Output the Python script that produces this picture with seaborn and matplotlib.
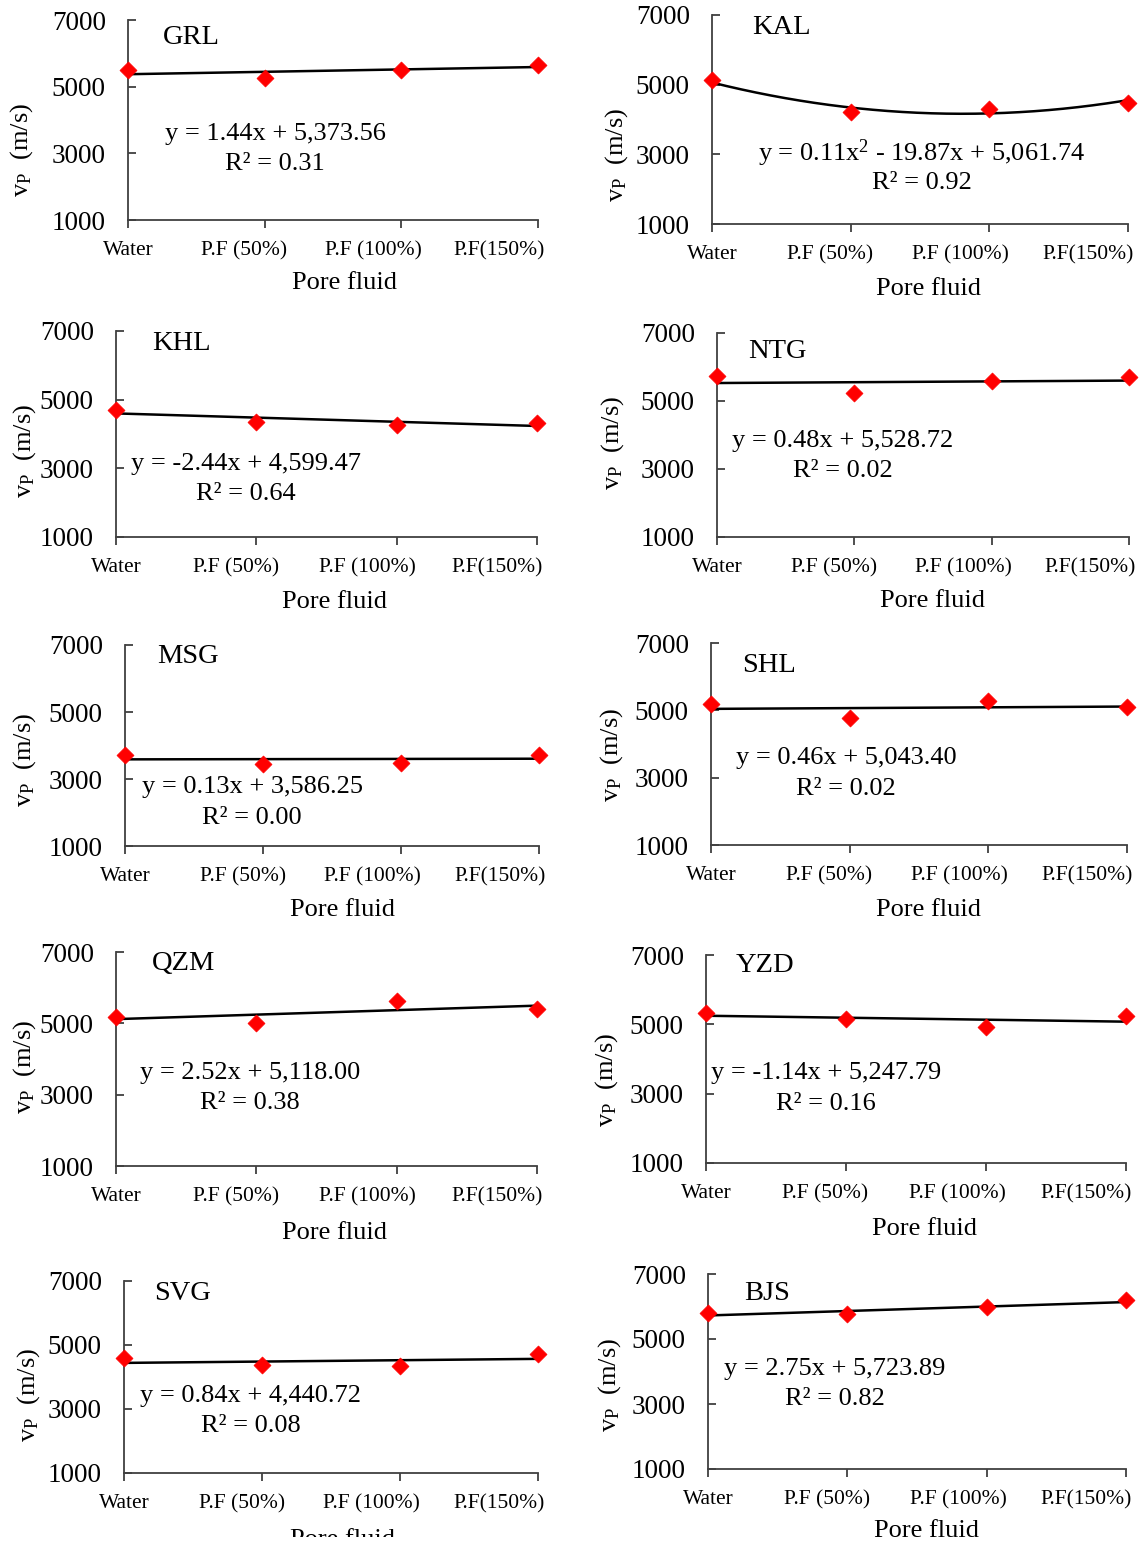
import numpy as np
import pandas as pd
import matplotlib
matplotlib.use("Agg")
import matplotlib.pyplot as plt
import seaborn as sns
from matplotlib.transforms import Bbox, ScaledTranslation

sns.set_theme(style="white")
plt.rcParams["font.family"] = ["Liberation Serif", "DejaVu Serif"]
plt.rcParams["mathtext.fontset"] = "custom"
plt.rcParams["mathtext.rm"] = "Liberation Serif"
plt.rcParams["mathtext.it"] = "Liberation Serif:italic"
plt.rcParams["mathtext.default"] = "rm"
plt.rcParams["text.color"] = "black"
plt.rcParams["xtick.labelcolor"] = "black"
plt.rcParams["ytick.labelcolor"] = "black"

# ---------------- data ----------------
categories = ["Water", "P.F (50%)", "P.F (100%)", "P.F(150%)"]
pf_percent = [0, 50, 100, 150]
rocks = ["GRL", "KAL", "KHL", "NTG", "MSG", "SHL", "QZM", "YZD", "SVG", "BJS"]

vp_GRL = [5500, 5270, 5510, 5650]
vp_KAL = [5130, 4210, 4300, 4470]
vp_KHL = [4700, 4360, 4270, 4330]
vp_NTG = [5740, 5240, 5580, 5700]
vp_MSG = [3730, 3440, 3490, 3730]
vp_SHL = [5180, 4770, 5270, 5090]
vp_QZM = [5180, 5020, 5640, 5390]
vp_YZD = [5330, 5160, 4920, 5240]
vp_SVG = [4600, 4360, 4330, 4730]
vp_BJS = [5790, 5760, 5980, 6190]

# trend-line coefficients (highest power first) and R² as printed
coef_GRL = [1.44, 5373.56]
coef_KAL = [0.11, -19.87, 5061.74]
coef_KHL = [-2.44, 4599.47]
coef_NTG = [0.48, 5528.72]
coef_MSG = [0.13, 3586.25]
coef_SHL = [0.46, 5043.40]
coef_QZM = [2.52, 5118.00]
coef_YZD = [-1.14, 5247.79]
coef_SVG = [0.84, 4440.72]
coef_BJS = [2.75, 5723.89]
r2_values = [0.31, 0.92, 0.64, 0.02, 0.00, 0.02, 0.38, 0.16, 0.08, 0.82]

vp_all = [vp_GRL, vp_KAL, vp_KHL, vp_NTG, vp_MSG, vp_SHL, vp_QZM, vp_YZD, vp_SVG, vp_BJS]
coef_all = [coef_GRL, coef_KAL, coef_KHL, coef_NTG, coef_MSG, coef_SHL,
            coef_QZM, coef_YZD, coef_SVG, coef_BJS]

y_ticks = [1000, 3000, 5000, 7000]

# ---------------- layout (pixels) ----------------
W, H = 1146, 1545
DPI = 100
# left, right, top, bottom of each axes box
boxes = [(128, 538, 20, 220), (712, 1128, 15, 224),
         (116, 537, 331, 537), (717, 1129, 333, 537),
         (125, 539, 645, 846), (711, 1127, 643, 845),
         (116, 537, 952, 1166), (706, 1126, 955, 1163),
         (124, 538, 1281, 1473), (708, 1126, 1274, 1469)]
# title (left x, center y); equation center (x, y); R2 center y
title_pos = [(163, 38), (752, 28), (152, 344), (748, 352), (157, 656),
             (742, 665), (152, 964), (736, 966), (154, 1294), (744, 1294)]
eq_pos = [(275, 134), (922, 153), (246, 464), (843, 441), (252, 787),
          (846, 758), (250, 1073), (826, 1073), (251, 1396), (835, 1369)]
r2_y = [164, 183, 494, 471, 818, 789, 1103, 1104, 1426, 1399]
xlabel_pos = [(344, 283), (929, 289), (335, 602), (933, 601), (342, 910),
              (929, 910), (335, 1233), (925, 1229), (342, 1540), (927, 1531)]
ylabel_pos = [(22, 150), (617, 155), (25, 451), (613, 443), (25, 760),
              (612, 755), (25, 1067), (607, 1080), (29, 1395), (610, 1385)]
label_frac = [0.0, 0.284, 0.598, 0.905]

spine_col = "#404040"

fig = plt.figure(figsize=(W / DPI, H / DPI), dpi=DPI)


def fx(x):
    return x / W


def fy(y):
    return 1 - y / H


for i, rock in enumerate(rocks):
    l, r, t, b = boxes[i]
    wpx, hpx = r - l, b - t
    ax = fig.add_axes([fx(l), fy(b), wpx / W, hpx / H])
    df = pd.DataFrame({"x": pf_percent, "vp": vp_all[i]})

    xs = np.linspace(min(pf_percent), max(pf_percent), 200)
    ys = np.polyval(coef_all[i], xs)
    sns.lineplot(x=xs, y=ys, ax=ax, color="black", lw=1.8, zorder=2)
    sns.scatterplot(data=df, x="x", y="vp", ax=ax, marker="D", s=75,
                    color="#ff0000", edgecolor="#ff0000", linewidth=0.5,
                    zorder=3, clip_on=False)

    ax.set_xlim(0, 150)
    ax.set_ylim(1000, 7000)
    ax.set_yticks(y_ticks)
    ax.set_yticklabels([str(v) for v in y_ticks], fontsize=19.5)
    ax.set_xticks(pf_percent)
    ax.set_xticklabels(categories, fontsize=15.5)
    for sp in ["top", "right"]:
        ax.spines[sp].set_visible(False)
    for sp in ["left", "bottom"]:
        ax.spines[sp].set_color(spine_col)
        ax.spines[sp].set_linewidth(1.3)
    ax.tick_params(axis="y", direction="in", length=6, width=1.3,
                   color=spine_col, pad=16, left=True, labelcolor="black")
    ax.tick_params(axis="x", direction="out", length=6, width=1.3,
                   color=spine_col, pad=9, bottom=True, labelcolor="black")
    for tick_x, lab, f in zip(pf_percent, ax.get_xticklabels(), label_frac):
        shift = (f - tick_x / 150) * wpx / DPI
        lab.set_transform(lab.get_transform() +
                          ScaledTranslation(shift, 0, fig.dpi_scale_trans))

    ax.set_xlabel("")
    ax.set_ylabel("")
    ax.grid(False)

    # axis labels, sample name and fit annotation
    xl = fig.text(fx(xlabel_pos[i][0]), fy(xlabel_pos[i][1]), "Pore fluid",
                  ha="center", va="center", fontsize=19)
    if rock == "SVG":
        xl.set_clip_box(Bbox.from_extents(0, H - 1537, W, H))
        xl.set_clip_on(True)
    fig.text(fx(ylabel_pos[i][0]), fy(ylabel_pos[i][1]),
             r"v$_{\mathrm{P}}$  (m/s)", rotation=90, ha="center",
             va="center", fontsize=19)

    fig.text(fx(title_pos[i][0]), fy(title_pos[i][1]), rock,
             ha="left", va="center", fontsize=20.5)

    c = coef_all[i]
    if len(c) == 3:
        eq = "y = {:.2f}x$^{{2}}$ - {:.2f}x + {:,.2f}".format(c[0], abs(c[1]), c[2])
    else:
        eq = "y = {:.2f}x + {:,.2f}".format(c[0], c[1])
    fig.text(fx(eq_pos[i][0]), fy(eq_pos[i][1]), eq,
             ha="center", va="center", fontsize=19)
    fig.text(fx(eq_pos[i][0]), fy(r2_y[i]), "R² = {:.2f}".format(r2_values[i]),
             ha="center", va="center", fontsize=19)

fig.savefig("out.png", dpi=DPI, facecolor="white")
